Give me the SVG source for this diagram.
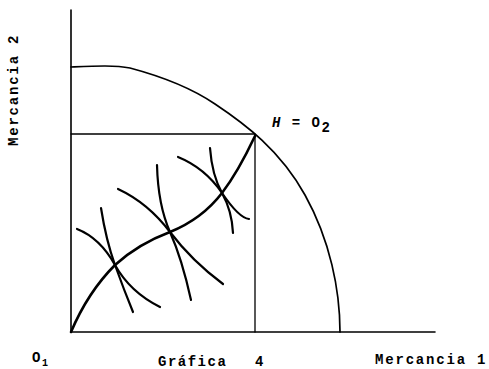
<svg xmlns="http://www.w3.org/2000/svg" width="489" height="369" viewBox="0 0 489 369">
<style>
.ln{fill:none;stroke:#000;stroke-linecap:round;stroke-linejoin:round}
.ax{stroke-width:1.6}
.thin{stroke-width:1.3}
.fr{stroke-width:1.7}
.ic{stroke-width:2.2}
.cc{stroke-width:2.6}
.t{font-family:"Liberation Mono","DejaVu Sans Mono",monospace;font-weight:bold;font-size:14px;fill:#000;letter-spacing:1.5px}
</style>
<rect width="489" height="369" fill="#fff"/>
<g id="axes">
<path class="ln ax" d="M71,10 L71,332 L435,332"/>
</g>
<g id="frontier">
<path class="ln fr" d="M71,67 C95,66 115,65 130,68 C160,76 190,87 215,104 C245,124 280,150 305,195 C330,240 340,290 340,332"/>
</g>
<g id="box">
<path class="ln thin" d="M71,134 L255,134 L255,332"/>
</g>
<g id="connectors">
<path id="contract" class="ln cc" d="M71,332 Q88,292 115,265 Q138,244 170,232 Q202,219 222,193 Q238,172 255,136"/>
<path id="a1" class="ln ic" d="M77,229 Q100,238 115,265 T160,307"/>
<path id="a2" class="ln ic" d="M118,189 Q148,203 170,232 T223,284"/>
<path id="a3" class="ln ic" d="M178,157 Q205,168 222,193 T249,219"/>
<path id="b1" class="ln ic" d="M101,208 Q106,240 115,265 T133,312"/>
<path id="b2" class="ln ic" d="M157,165 Q158,205 170,232 T191,300"/>
<path id="b3" class="ln ic" d="M210,148 Q212,175 222,193 T233,233"/>
</g>
<g id="labels">
<text class="t" transform="translate(18,146) rotate(-90)" textLength="112" lengthAdjust="spacing">Mercancia 2</text>
<text class="t" x="272" y="127"><tspan font-style="italic">H</tspan> = O<tspan dy="5">2</tspan></text>
<text class="t" x="32" y="362">O<tspan dy="4" font-size="10">1</tspan></text>
<text class="t" x="158" y="366">Gráfica<tspan x="255">4</tspan></text>
<text class="t" x="375" y="364" textLength="112" lengthAdjust="spacing">Mercancia 1</text>
</g>
</svg>
